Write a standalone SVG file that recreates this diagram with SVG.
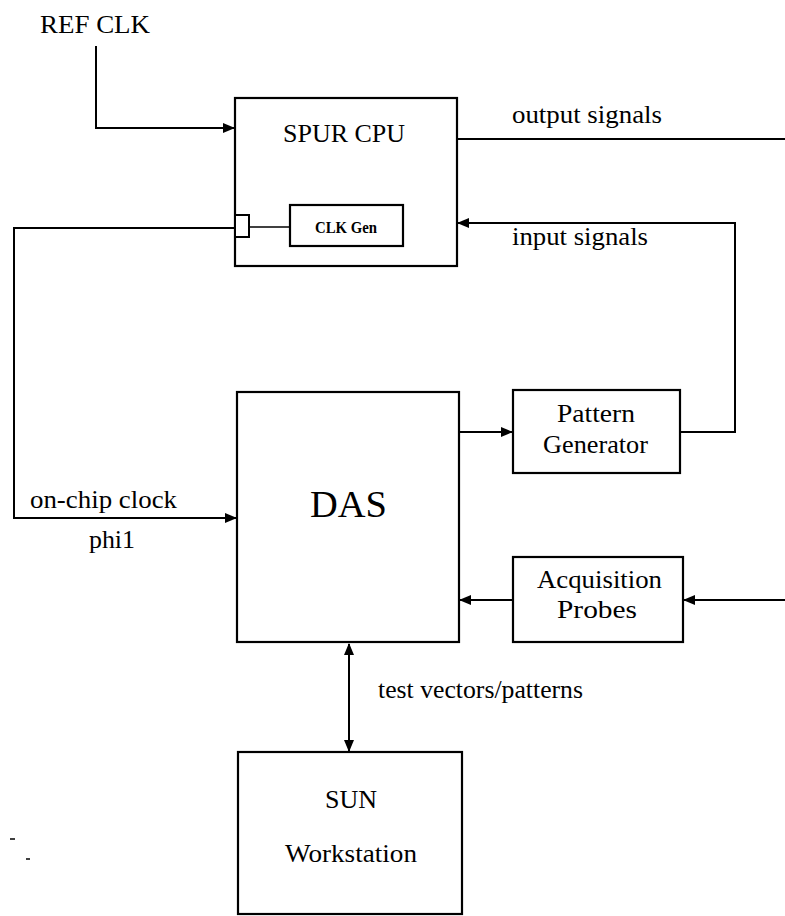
<svg xmlns="http://www.w3.org/2000/svg" width="785" height="916" viewBox="0 0 785 916">
<style>
.box{fill:none;stroke:#000;stroke-width:2.2}
.ln{fill:none;stroke:#000;stroke-width:2}
.t{font-size:26px;fill:#000}
</style>
<defs>
<marker id="ah" markerWidth="12" markerHeight="10" refX="11" refY="5" orient="auto" markerUnits="userSpaceOnUse">
<path d="M0,0 L12,5 L0,10 Z" fill="#000"/>
</marker>
<marker id="as" markerWidth="12" markerHeight="10" refX="1" refY="5" orient="auto" markerUnits="userSpaceOnUse">
<path d="M12,0 L0,5 L12,10 Z" fill="#000"/>
</marker>
</defs>
<rect width="785" height="916" fill="#fff"/>
<g id="connectors">
<polyline class="ln" points="96,46 96,128 234,128" marker-end="url(#ah)"/>
<line class="ln" x1="457" y1="139" x2="785" y2="139"/>
<polyline class="ln" points="680,432 735,432 735,223 458,223" marker-end="url(#ah)"/>
<polyline class="ln" points="235,228 14,228 14,518 236,518" marker-end="url(#ah)"/>
<line x1="249" y1="227" x2="290" y2="227" stroke="#000" stroke-width="1.5"/>
<line class="ln" x1="459" y1="432" x2="512" y2="432" marker-end="url(#ah)"/>
<line class="ln" x1="513" y1="600" x2="460" y2="600" marker-end="url(#ah)"/>
<line class="ln" x1="785" y1="600" x2="684" y2="600" marker-end="url(#ah)"/>
<line class="ln" x1="349" y1="644" x2="349" y2="751" marker-start="url(#as)" marker-end="url(#ah)"/>
</g>
<g font-family="Liberation Serif, Times New Roman, serif">
<g id="refclk"><text class="t" font-family="Liberation Serif, serif" x="40" y="33" textLength="110" lengthAdjust="spacingAndGlyphs">REF CLK</text></g>
<g id="spur">
<rect class="box" x="235" y="98" width="222" height="168"/>
<text class="t" font-family="Liberation Serif, serif" x="283" y="142" textLength="122" lengthAdjust="spacingAndGlyphs">SPUR CPU</text>
</g>
<g id="pad"><rect x="235" y="215" width="14" height="22" fill="#fff" stroke="#000" stroke-width="2"/></g>
<g id="clkgen">
<rect class="box" x="290" y="205" width="113" height="41"/>
<text x="315" y="233" font-family="Liberation Serif, serif" font-size="16" font-weight="bold" textLength="62" lengthAdjust="spacingAndGlyphs">CLK Gen</text>
</g>
<g id="labels">
<text class="t" font-family="Liberation Serif, serif" x="512" y="123" textLength="150" lengthAdjust="spacingAndGlyphs">output signals</text>
<text class="t" font-family="Liberation Serif, serif" x="512" y="245" textLength="136" lengthAdjust="spacingAndGlyphs">input signals</text>
<text class="t" font-family="Liberation Serif, serif" x="30" y="508" textLength="147" lengthAdjust="spacingAndGlyphs">on-chip clock</text>
<text class="t" font-family="Liberation Serif, serif" x="89" y="548" textLength="46" lengthAdjust="spacingAndGlyphs">phi1</text>
<text class="t" font-family="Liberation Serif, serif" x="378" y="698" textLength="205" lengthAdjust="spacingAndGlyphs">test vectors/patterns</text>
</g>
<g id="das">
<rect class="box" x="237" y="392" width="222" height="250"/>
<text x="310" y="517" font-family="Liberation Serif, serif" font-size="37" textLength="77" lengthAdjust="spacingAndGlyphs">DAS</text>
</g>
<g id="patgen">
<rect class="box" x="513" y="390" width="167" height="83"/>
<text class="t" font-family="Liberation Serif, serif" x="557" y="422" textLength="78" lengthAdjust="spacingAndGlyphs">Pattern</text>
<text class="t" font-family="Liberation Serif, serif" x="543" y="453" textLength="105" lengthAdjust="spacingAndGlyphs">Generator</text>
</g>
<g id="acq">
<rect class="box" x="513" y="557" width="170" height="85"/>
<text class="t" font-family="Liberation Serif, serif" x="537" y="588" textLength="125" lengthAdjust="spacingAndGlyphs">Acquisition</text>
<text class="t" font-family="Liberation Serif, serif" x="557" y="618" textLength="80" lengthAdjust="spacingAndGlyphs">Probes</text>
</g>
<g id="sun">
<rect class="box" x="238" y="752" width="224" height="162"/>
<text class="t" font-family="Liberation Serif, serif" x="325" y="808" textLength="52" lengthAdjust="spacingAndGlyphs">SUN</text>
<text class="t" font-family="Liberation Serif, serif" x="285" y="862" textLength="132" lengthAdjust="spacingAndGlyphs">Workstation</text>
</g>
</g>
<g id="marks">
<line x1="10" y1="839" x2="15" y2="839" stroke="#000" stroke-width="1.5"/>
<line x1="26" y1="859" x2="30" y2="859" stroke="#000" stroke-width="1.5"/>
</g>
</svg>
